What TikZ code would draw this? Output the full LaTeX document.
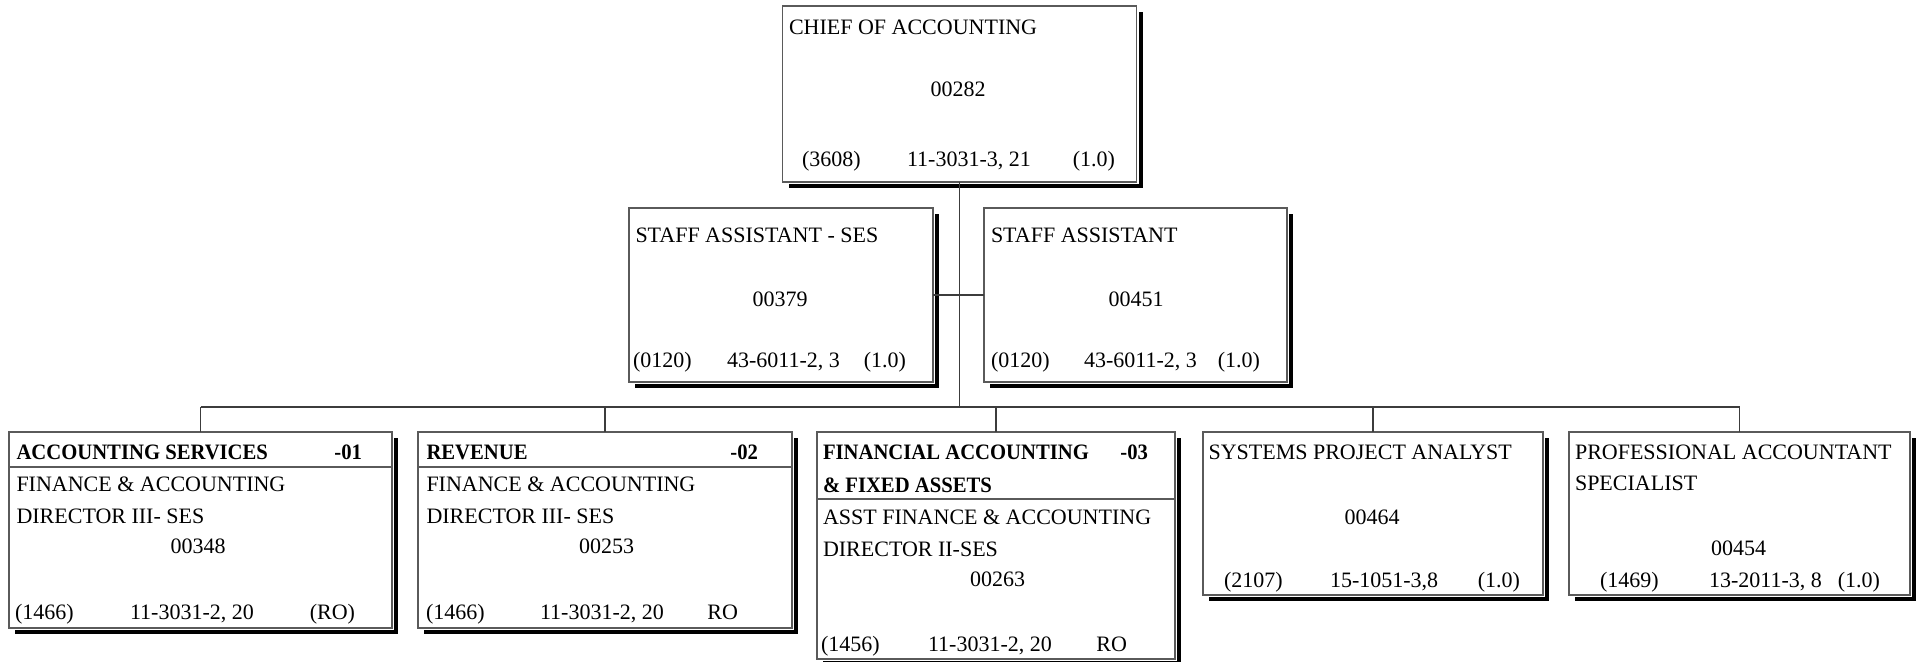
\documentclass[tikz,border=0pt]{standalone}
\usepackage{fontspec}
\setmainfont{Liberation Serif}[BoldFeatures={FakeStretch=0.94}]
\usetikzlibrary{shadows}
\definecolor{boxgray}{HTML}{5A5A5A}
\definecolor{linegray}{HTML}{3C3C3C}
\begin{document}
\begin{tikzpicture}[x=1pt,y=-1pt,
  font=\fontsize{22}{30}\selectfont,
  orgbox/.style={rectangle, inner sep=0pt, outer sep=0pt,
    drop shadow={shadow xshift=6pt, shadow yshift=-6pt, fill=black, opacity=1},
    preaction={draw=white, line width=4pt},
    draw=boxgray, line width=1.3pt, fill=white},
  conn/.style={draw=linegray, line width=1.2pt},
  sep/.style={draw=boxgray, line width=1.2pt},
  lbl/.style={inner sep=0pt, outer sep=0pt, anchor=base west},
  rlbl/.style={inner sep=0pt, outer sep=0pt, anchor=base east},
  clbl/.style={inner sep=0pt, outer sep=0pt, anchor=base},
  hdr/.style={lbl, font=\fontsize{22}{30}\selectfont\bfseries},
  rhdr/.style={rlbl, font=\fontsize{22}{30}\selectfont\bfseries}]
\useasboundingbox (0,0) rectangle (1921,661);

% boxes
\node[orgbox, minimum width=354pt, minimum height=176pt] (chief) at (959.5,94) {};
\node[orgbox, minimum width=304pt, minimum height=174pt] (sa1) at (781,295) {};
\node[orgbox, minimum width=303pt, minimum height=174pt] (sa2) at (1135.5,295) {};
\node[orgbox, minimum width=383pt, minimum height=196pt] (d1) at (200.5,530) {};
\node[orgbox, minimum width=374pt, minimum height=196pt] (d2) at (605,530) {};
\node[orgbox, minimum width=358pt, minimum height=227pt] (d3) at (996,545.5) {};
\node[orgbox, minimum width=340pt, minimum height=163pt] (d4) at (1373,513.5) {};
\node[orgbox, minimum width=341pt, minimum height=163pt] (d5) at (1739.5,513.5) {};

% connectors
\coordinate (bus) at (959.5,407);
\draw[conn] (chief.south) -- (bus);
\draw[conn] (sa1.east) -- (sa2.west);
\draw[conn] (d1.north |- bus) -- (d5.north |- bus);
\foreach \b in {d1,d2,d3,d4,d5}
  \draw[conn] (\b.north |- bus) -- (\b.north);

% header rules of the divisions
\draw[sep] (d1.west |- 0,467) -- (d1.east |- 0,467);
\draw[sep] (d2.west |- 0,467) -- (d2.east |- 0,467);
\draw[sep] (d3.west |- 0,499) -- (d3.east |- 0,499);

% chief of accounting
\node[lbl] (c-title) at (789,34.5) {CHIEF OF ACCOUNTING};
\node[clbl] (c-num) at (958,96.5) {00282};
\node[lbl] (c-a) at (802,166.5) {(3608)};
\node[lbl] (c-b) at (907,166.5) {11-3031-3, 21};
\node[rlbl] (c-c) at (1115,166.5) {(1.0)};

% staff assistants
\node[lbl] (s1-title) at (635.5,242.5) {STAFF ASSISTANT - SES};
\node[clbl] (s1-num) at (780,306) {00379};
\node[lbl] (s1-a) at (633,367.5) {(0120)};
\node[lbl] (s1-b) at (727,367.5) {43-6011-2, 3};
\node[rlbl] (s1-c) at (906,367.5) {(1.0)};

\node[lbl] (s2-title) at (991,242.5) {STAFF ASSISTANT};
\node[clbl] (s2-num) at (1136,306) {00451};
\node[lbl] (s2-a) at (991,367.5) {(0120)};
\node[lbl] (s2-b) at (1084,367.5) {43-6011-2, 3};
\node[rlbl] (s2-c) at (1260,367.5) {(1.0)};

% accounting services
\node[hdr] (d1-h) at (16.5,459.5) {ACCOUNTING SERVICES};
\node[rhdr] (d1-n) at (362,459.5) {-01};
\node[lbl] (d1-t1) at (16.5,491.5) {FINANCE \& ACCOUNTING};
\node[lbl] (d1-t2) at (16.5,523.5) {DIRECTOR III- SES};
\node[clbl] (d1-num) at (198,553.5) {00348};
\node[lbl] (d1-a) at (15,619.5) {(1466)};
\node[lbl] (d1-b) at (130,619.5) {11-3031-2, 20};
\node[rlbl] (d1-c) at (355,619.5) {(RO)};

% revenue
\node[hdr] (d2-h) at (426.5,459.5) {REVENUE};
\node[rhdr] (d2-n) at (758,459.5) {-02};
\node[lbl] (d2-t1) at (426.5,491.5) {FINANCE \& ACCOUNTING};
\node[lbl] (d2-t2) at (426.5,523.5) {DIRECTOR III- SES};
\node[clbl] (d2-num) at (606.5,553.5) {00253};
\node[lbl] (d2-a) at (426,619.5) {(1466)};
\node[lbl] (d2-b) at (540,619.5) {11-3031-2, 20};
\node[rlbl] (d2-c) at (738,619.5) {RO};

% financial accounting & fixed assets
\node[hdr] (d3-h1) at (823,459.5) {FINANCIAL ACCOUNTING};
\node[rhdr] (d3-n) at (1148,459.5) {-03};
\node[hdr] (d3-h2) at (823,492) {\& FIXED ASSETS};
\node[lbl] (d3-t1) at (823,524.5) {ASST FINANCE \& ACCOUNTING};
\node[lbl] (d3-t2) at (823,556) {DIRECTOR II-SES};
\node[clbl] (d3-num) at (997.5,586) {00263};
\node[lbl] (d3-a) at (821,651.5) {(1456)};
\node[lbl] (d3-b) at (928,651.5) {11-3031-2, 20};
\node[rlbl] (d3-c) at (1127,651.5) {RO};

% systems project analyst
\node[lbl] (d4-title) at (1208.5,459.5) {SYSTEMS PROJECT ANALYST};
\node[clbl] (d4-num) at (1372,524) {00464};
\node[lbl] (d4-a) at (1224,587) {(2107)};
\node[lbl] (d4-b) at (1330,587) {15-1051-3,8};
\node[rlbl] (d4-c) at (1520,587) {(1.0)};

% professional accountant specialist
\node[lbl] (d5-t1) at (1575,459.5) {PROFESSIONAL ACCOUNTANT};
\node[lbl] (d5-t2) at (1575,490.5) {SPECIALIST};
\node[clbl] (d5-num) at (1738.5,555) {00454};
\node[lbl] (d5-a) at (1600,587) {(1469)};
\node[lbl] (d5-b) at (1709,587) {13-2011-3, 8};
\node[rlbl] (d5-c) at (1880,587) {(1.0)};
\end{tikzpicture}
\end{document}
